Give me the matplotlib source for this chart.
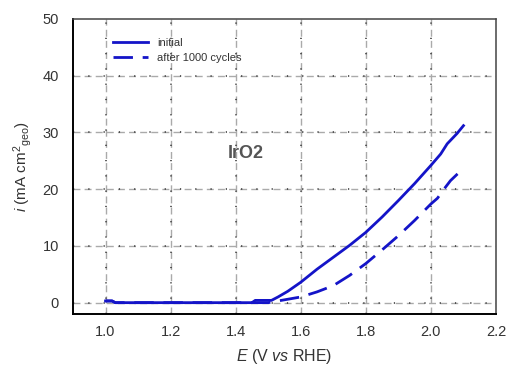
import numpy as np
import matplotlib.pyplot as plt

plt.rcParams['font.family'] = ['Liberation Sans', 'DejaVu Sans']
plt.rcParams['mathtext.fontset'] = 'custom'
plt.rcParams['mathtext.rm'] = 'Liberation Sans'
plt.rcParams['mathtext.it'] = 'Liberation Sans:italic'

# polarisation curves, IrO2
E_init = [1.00, 1.02, 1.03, 1.45, 1.46, 1.51, 1.53, 1.56, 1.60, 1.65, 1.70, 1.75,
          1.80, 1.85, 1.90, 1.95, 2.00, 2.03, 2.05, 2.08, 2.10]
i_init = [0.3, 0.3, 0.0, 0.0, 0.4, 0.4, 1.0, 2.0, 3.6, 5.9, 8.0, 10.1,
          12.4, 15.1, 18.0, 21.0, 24.2, 26.2, 28.0, 29.8, 31.2]

E_aged = [1.00, 1.02, 1.03, 1.50, 1.54, 1.56, 1.60, 1.65, 1.70, 1.75, 1.80, 1.85,
          1.90, 1.95, 2.00, 2.02, 2.04, 2.06, 2.08, 2.10]
i_aged = [0.3, 0.3, 0.0, 0.0, 0.4, 0.6, 1.0, 1.9, 3.0, 4.8, 6.9, 9.3,
          11.8, 14.5, 17.4, 18.4, 20.0, 21.5, 22.6, 23.6]

xticks = [1.0, 1.2, 1.4, 1.6, 1.8, 2.0, 2.2]
yticks = [0, 10, 20, 30, 40, 50]

blue = '#1414c8'

fig = plt.figure(figsize=(5.08, 3.70), dpi=100)
ax = fig.add_axes([73 / 508, 1 - 314 / 370, (496 - 73) / 508, (314 - 19) / 370])

ax.plot(E_init, i_init, color=blue, lw=2.0, label='initial')
ax.plot(E_aged, i_aged, color=blue, lw=2.0, dashes=(7, 3.5), label='after 1000 cycles')

ax.set_xlim(0.9, 2.2)
ax.set_ylim(-2, 50)
ax.set_xticks(xticks)
ax.set_yticks(yticks)
ax.set_xticklabels(['%.1f' % t for t in xticks])
ax.tick_params(length=0, labelsize=10.5, labelcolor='#333333')
ax.tick_params(axis='x', pad=8)
ax.tick_params(axis='y', pad=10)

# gridlines: light grey dashes with dark dots laid over them
for t in xticks[:-1]:
    ax.axvline(t, color='#aaaaaa', lw=1.0, dashes=(5, 3), zorder=0)
    ax.axvline(t, color='#333333', lw=1.1, dashes=(0.8, 9.2), zorder=0)
for t in yticks[:-1]:
    ax.axhline(t, color='#aaaaaa', lw=1.0, dashes=(5, 3), zorder=0)
    ax.axhline(t, color='#333333', lw=1.1, dashes=(0.8, 9.2), zorder=0)

for side in ['left', 'bottom']:
    ax.spines[side].set_linewidth(1.4)
    ax.spines[side].set_color('black')
for side in ['top', 'right']:
    ax.spines[side].set_linewidth(1.1)
    ax.spines[side].set_color('#444444')

ax.set_xlabel(r'$E$ (V $vs$ RHE)', fontsize=11.5, color='#333333', labelpad=6)
ax.set_ylabel(r'$i$ (mA cm$^{2}$$_{\mathrm{geo}}$)', fontsize=11, color='#333333', labelpad=6)

ax.text(1.43, 26.3, 'IrO2', fontsize=13, fontweight='bold', color='#555555',
        ha='center', va='center')

leg = ax.legend(loc='upper left', frameon=False, fontsize=8, handlelength=3.2,
                labelspacing=0.45, bbox_to_anchor=(0.07, 0.97), labelcolor='#333333')

fig.savefig('out.png', dpi=100)
